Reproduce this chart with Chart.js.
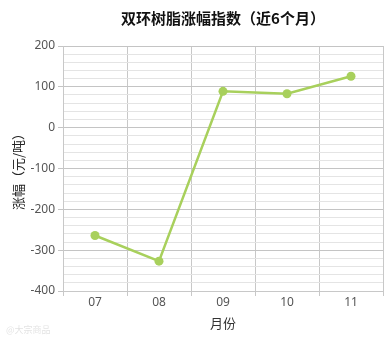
<!DOCTYPE html>
<html>
<head>
<meta charset="utf-8">
<script src="https://cdn.jsdelivr.net/npm/chart.js@4/dist/chart.umd.min.js"></script>
<style>
  html, body { margin: 0; padding: 0; background: #fff; }
  #wrap { position: relative; width: 392px; height: 343px; }
</style>
</head>
<body>
<div id="wrap"><canvas id="chart"></canvas></div>
<script>
/////////////////////
//    Data         //
/////////////////////
const MONTHS = ['07', '08', '09', '10', '11'];
const CHANGE = [-264, -327, 89, 83, 126];
const Y_MIN = -400;
const Y_MAX = 200;

const LINE_COLOR = '#a8d05c';
const FONT = "'Noto Sans', 'Noto Sans CJK SC', sans-serif";
const CJK = "'Noto Sans CJK SC', sans-serif";

// faint watermark in the bottom left corner
const watermark = {
  id: 'watermark',
  afterDraw(chart) {
    const ctx = chart.ctx;
    ctx.save();
    ctx.fillStyle = 'rgba(0, 0, 0, 0.12)';
    ctx.font = `9px ${CJK}`;
    ctx.textBaseline = 'middle';
    ctx.fillText('@大宗商品', 6, 330);
    ctx.restore();
  }
};

const isMajor = (v) => v % 100 === 0;

new Chart(document.getElementById('chart'), {
  type: 'line',
  data: {
    labels: MONTHS,
    datasets: [{
      data: CHANGE,
      borderColor: LINE_COLOR,
      backgroundColor: LINE_COLOR,
      borderWidth: 2.5,
      pointRadius: 4.5,
      pointBorderWidth: 0,
      tension: 0
    }]
  },
  options: {
    responsive: true,
    maintainAspectRatio: false,
    animation: false,
    layout: { padding: { top: 4, right: 9, left: 10, bottom: 12 } },
    scales: {
      x: {
        offset: true,
        grid: {
          offset: true,
          color: '#c8c8c8',
          tickLength: 5,
          drawTicks: true
        },
        border: { color: '#c8c8c8' },
        ticks: {
          color: '#555',
          font: { family: FONT, size: 12 },
          padding: -1
        },
        title: {
          display: true,
          text: '月份',
          color: '#333',
          font: { family: CJK, size: 13 },
          padding: { top: 7, bottom: 0 }
        }
      },
      y: {
        min: Y_MIN,
        max: Y_MAX,
        afterFit: (scale) => { scale.width = 53; },
        grid: {
          color: (c) => isMajor(c.tick.value) ? '#c4c4c4' : '#e4e4e4',
          tickColor: (c) => isMajor(c.tick.value) ? '#c4c4c4' : 'rgba(0,0,0,0)',
          tickLength: 5
        },
        border: { color: '#c8c8c8' },
        ticks: {
          stepSize: 20,
          autoSkip: false,
          color: '#555',
          font: { family: FONT, size: 12 },
          padding: 3,
          callback: (v) => isMajor(v) ? v : ''
        },
        title: {
          display: true,
          text: '涨幅（元/吨）',
          color: '#222',
          font: { family: CJK, size: 13 },
          padding: 0
        }
      }
    },
    plugins: {
      legend: { display: false },
      tooltip: { enabled: false },
      title: {
        display: true,
        fullSize: false,
        text: '双环树脂涨幅指数（近6个月）',
        color: '#111',
        font: { family: CJK, size: 15, weight: 'bold' },
        padding: { top: 5, bottom: 19 }
      }
    }
  },
  plugins: [watermark]
});
</script>
</body>
</html>
